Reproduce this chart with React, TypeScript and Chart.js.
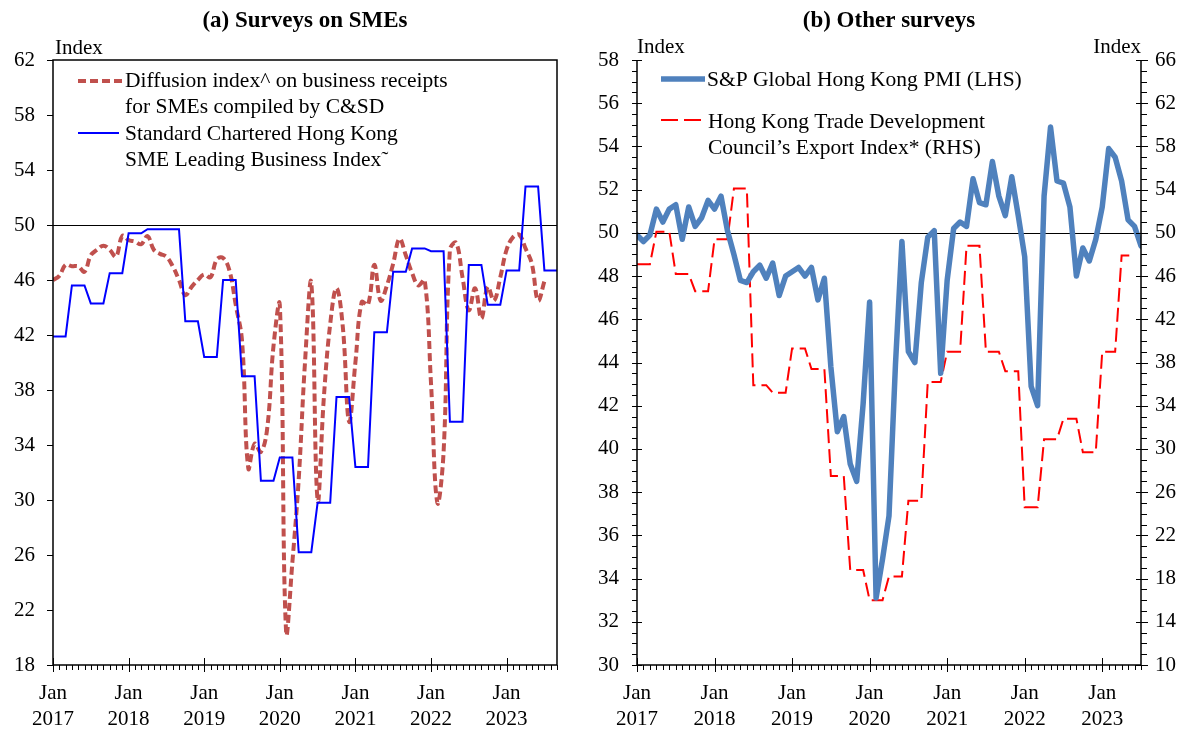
import React, { useEffect, useRef } from "react";
import { Chart, registerables } from "chart.js";

Chart.register(...registerables);

const SERIF = "'Liberation Serif', 'Times New Roman', Times, serif";

// month index 0 = Jan 2017
const yearLabels = ["2017", "2018", "2019", "2020", "2021", "2022", "2023"];
const yearTickMonths = [0, 12, 24, 36, 48, 60, 72];

// ---- Panel (a): Surveys on SMEs ----
const csdDiffusion = [
  46.0, 46.3, 47.1, 47.0, 47.0, 46.6, 47.8, 48.2, 48.5, 48.2, 47.7, 49.2,
  48.9, 48.8, 48.6, 49.2, 48.2, 47.9, 47.7, 47.0, 46.0, 44.9, 45.5, 46.0,
  46.4, 46.2, 47.5, 47.6, 46.7, 44.2, 41.6, 32.3, 34.1, 33.5, 35.2, 41.2,
  44.2, 20.4, 25.5, 31.5, 40.0, 45.8, 30.0, 37.5, 42.8, 45.4, 42.6, 35.7,
  40.0, 44.4, 44.2, 47.1, 44.5, 45.6, 47.2, 49.0, 47.8, 46.5, 45.6, 46.0,
  38.5, 29.8, 33.5, 48.2, 48.7, 46.2, 43.8, 45.4, 43.2, 45.5, 44.5, 46.2,
  48.2, 49.1, 49.3, 48.3, 47.2, 44.5, 45.9,
];

const scLeadingIndex = [
  41.9, 41.9, 41.9, 45.6, 45.6, 45.6, 44.3, 44.3, 44.3, 46.5, 46.5, 46.5,
  49.4, 49.4, 49.4, 49.7, 49.7, 49.7, 49.7, 49.7, 49.7, 43.0, 43.0, 43.0,
  40.4, 40.4, 40.4, 46.0, 46.0, 46.0, 39.0, 39.0, 39.0, 31.4, 31.4, 31.4,
  33.1, 33.1, 33.1, 26.2, 26.2, 26.2, 29.8, 29.8, 29.8, 37.5, 37.5, 37.5,
  32.4, 32.4, 32.4, 42.2, 42.2, 42.2, 46.6, 46.6, 46.6, 48.3, 48.3, 48.3,
  48.1, 48.1, 48.1, 35.7, 35.7, 35.7, 47.1, 47.1, 47.1, 44.2, 44.2, 44.2,
  46.7, 46.7, 46.7, 52.8, 52.8, 52.8, 46.7, 46.7, 46.7,
];

// ---- Panel (b): Other surveys ----
const pmi = [
  49.9, 49.6, 49.9, 51.1, 50.5, 51.1, 51.3, 49.7, 51.2, 50.3, 50.7, 51.5,
  51.1, 51.7, 50.1, 49.0, 47.8, 47.7, 48.2, 48.5, 47.9, 48.6, 47.1, 48.0,
  48.2, 48.4, 48.0, 48.4, 46.9, 47.9, 43.8, 40.8, 41.5, 39.3, 38.5, 42.1,
  46.8, 33.1, 34.9, 36.9, 43.9, 49.6, 44.5, 44.0, 47.7, 49.8, 50.1, 43.5,
  47.8, 50.2, 50.5, 50.3, 52.5, 51.4, 51.3, 53.3, 51.7, 50.8, 52.6, 50.8,
  48.9, 42.9, 42.0, 51.7, 54.9, 52.4, 52.3, 51.2, 48.0, 49.3, 48.7, 49.7,
  51.2, 53.9, 53.5, 52.4, 50.6, 50.3, 49.4,
];

const hktdcExport = [
  47.1, 47.1, 47.1, 50.1, 50.1, 50.1, 46.2, 46.2, 46.2, 44.6, 44.6, 44.6,
  49.4, 49.4, 49.4, 54.1, 54.1, 54.1, 35.9, 35.9, 35.9, 35.2, 35.2, 35.2,
  39.3, 39.3, 39.3, 37.4, 37.4, 37.4, 27.5, 27.5, 27.5, 18.8, 18.8, 18.8,
  16.0, 16.0, 16.0, 18.2, 18.2, 18.2, 25.2, 25.2, 25.2, 36.2, 36.2, 36.2,
  39.0, 39.0, 39.0, 48.8, 48.8, 48.8, 39.0, 39.0, 39.0, 37.2, 37.2, 37.2,
  24.6, 24.6, 24.6, 30.9, 30.9, 30.9, 32.8, 32.8, 32.8, 29.7, 29.7, 29.7,
  39.0, 39.0, 39.0, 47.9, 47.9, 47.9,
];

const toPoints = (arr: number[]) => arr.map((y, i) => ({ x: i, y }));

const CSD_RED = "rgb(192,80,77)";
const SC_BLUE = "#0000ff";
const PMI_BLUE = "rgb(79,129,189)";
const TDC_RED = "#ff0000";

const TICK_FONT = { family: SERIF, size: 21 };
const LEGEND_FONT = `21.5px ${SERIF}`;
const TITLE_FONT = `bold 23px ${SERIF}`;

function xScale(max: number) {
  return {
    type: "linear" as const,
    min: 0,
    max,
    afterBuildTicks: (s: any) => {
      s.ticks = yearTickMonths.map((v) => ({ value: v }));
    },
    afterFit: (s: any) => {
      s.height = 64;
    },
    grid: { display: false, drawTicks: false },
    border: { display: false },
    ticks: {
      autoSkip: false,
      maxRotation: 0,
      padding: 15,
      color: "#000",
      font: { ...TICK_FONT, lineHeight: 1.24 },
      callback: (v: any) => {
        const i = yearTickMonths.indexOf(Number(v));
        return i >= 0 ? ["Jan", yearLabels[i]] : "";
      },
    },
  };
}

function drawXTicks(ctx: CanvasRenderingContext2D, chart: any, max: number) {
  const { bottom } = chart.chartArea;
  const xs = chart.scales.x;
  ctx.lineWidth = 1;
  ctx.strokeStyle = "#000";
  for (let m = 0; m <= max; m++) {
    const px = Math.round(xs.getPixelForValue(m)) + 0.5;
    ctx.beginPath();
    if (m % 12 === 0) {
      ctx.moveTo(px, bottom - 7);
      ctx.lineTo(px, bottom + 7);
    } else {
      ctx.moveTo(px, bottom);
      ctx.lineTo(px, bottom + 5);
    }
    ctx.stroke();
  }
}

function hLine(ctx: CanvasRenderingContext2D, x1: number, x2: number, y: number) {
  ctx.beginPath();
  ctx.moveTo(x1, y);
  ctx.lineTo(x2, y);
  ctx.stroke();
}

const leftDecor = {
  id: "leftDecor",
  beforeDatasetsDraw(chart: any) {
    const { ctx, chartArea } = chart;
    const py = Math.round(chart.scales.y.getPixelForValue(50)) + 0.5;
    ctx.save();
    ctx.strokeStyle = "#000";
    ctx.lineWidth = 1;
    hLine(ctx, chartArea.left, chartArea.right, py);
    ctx.restore();
  },
  afterDraw(chart: any) {
    const { ctx, chartArea } = chart;
    const { left, right, top, bottom } = chartArea;
    ctx.save();
    ctx.strokeStyle = "#000";
    ctx.lineWidth = 1.5;
    ctx.strokeRect(left, top, right - left, bottom - top);
    drawXTicks(ctx, chart, 80);
    const ys = chart.scales.y;
    ctx.lineWidth = 1;
    for (let v = 18; v <= 62; v += 4) {
      const py = Math.round(ys.getPixelForValue(v)) + 0.5;
      hLine(ctx, left - 6, left, py);
    }
    ctx.fillStyle = "#000";
    ctx.textBaseline = "alphabetic";
    ctx.font = TITLE_FONT;
    ctx.textAlign = "center";
    ctx.fillText("(a) Surveys on SMEs", (left + right) / 2, 27);
    ctx.font = `21px ${SERIF}`;
    ctx.textAlign = "left";
    ctx.fillText("Index", 55, 54);

    // legend
    ctx.strokeStyle = CSD_RED;
    ctx.lineWidth = 4;
    ctx.setLineDash([8, 4]);
    hLine(ctx, 78, 122, 81);
    ctx.setLineDash([]);
    ctx.strokeStyle = SC_BLUE;
    ctx.lineWidth = 2;
    hLine(ctx, 78, 119, 133);
    ctx.fillStyle = "#000";
    ctx.font = LEGEND_FONT;
    ctx.fillText("Diffusion index^ on business receipts", 125, 87);
    ctx.fillText("for SMEs compiled by C&SD", 125, 113);
    ctx.fillText("Standard Chartered Hong Kong", 125, 140);
    ctx.fillText("SME Leading Business Index\u02DC", 125, 166);
    ctx.restore();
  },
};

const rightDecor = {
  id: "rightDecor",
  beforeDatasetsDraw(chart: any) {
    const { ctx, chartArea } = chart;
    const py = Math.round(chart.scales.y.getPixelForValue(50)) + 0.5;
    ctx.save();
    ctx.strokeStyle = "#000";
    ctx.lineWidth = 1;
    hLine(ctx, chartArea.left, chartArea.right, py);
    ctx.restore();
  },
  afterDraw(chart: any) {
    const { ctx, chartArea } = chart;
    const { left, right, top, bottom } = chartArea;
    ctx.save();
    ctx.strokeStyle = "#000";
    ctx.lineWidth = 1.5;
    ctx.beginPath();
    ctx.moveTo(left, top);
    ctx.lineTo(left, bottom);
    ctx.lineTo(right, bottom);
    ctx.lineTo(right, top);
    ctx.stroke();
    drawXTicks(ctx, chart, 78);
    const ys = chart.scales.y;
    const y2 = chart.scales.y2;
    ctx.lineWidth = 1;
    for (let v = 30; v <= 58; v += 0.5) {
      const py = Math.round(ys.getPixelForValue(v)) + 0.5;
      if (Math.abs(v % 2) < 1e-9) hLine(ctx, left - 5, left + 5, py);
      else hLine(ctx, left - 5, left, py);
    }
    for (let v = 10; v <= 66; v += 1) {
      const py = Math.round(y2.getPixelForValue(v)) + 0.5;
      if ((v - 10) % 4 === 0) hLine(ctx, right - 5, right + 7, py);
      else hLine(ctx, right, right + 6, py);
    }
    ctx.fillStyle = "#000";
    ctx.textBaseline = "alphabetic";
    ctx.font = TITLE_FONT;
    ctx.textAlign = "center";
    ctx.fillText("(b) Other surveys", (left + right) / 2, 27);
    ctx.font = `21px ${SERIF}`;
    ctx.textAlign = "left";
    ctx.fillText("Index", left, 53);
    ctx.textAlign = "right";
    ctx.fillText("Index", right, 53);

    // legend
    ctx.strokeStyle = PMI_BLUE;
    ctx.lineWidth = 5.5;
    hLine(ctx, 67, 111, 79);
    ctx.strokeStyle = TDC_RED;
    ctx.lineWidth = 2;
    ctx.setLineDash([17, 6]);
    hLine(ctx, 67, 107, 120);
    ctx.setLineDash([]);
    ctx.textAlign = "left";
    ctx.font = LEGEND_FONT;
    ctx.fillText("S&P Global Hong Kong PMI (LHS)", 113, 86);
    ctx.fillText("Hong Kong Trade Development", 114, 128);
    ctx.fillText("Council\u2019s Export Index* (RHS)", 114, 154);
    ctx.restore();
  },
};

export default function App() {
  const leftRef = useRef<HTMLCanvasElement>(null);
  const rightRef = useRef<HTMLCanvasElement>(null);

  useEffect(() => {
    const common = {
      animation: false as const,
      responsive: false,
      events: [] as any[],
      plugins: {
        legend: { display: false },
        tooltip: { enabled: false },
        title: { display: false },
      },
      elements: { point: { radius: 0 } },
    };

    const left = new Chart(leftRef.current as HTMLCanvasElement, {
      type: "line",
      data: {
        datasets: [
          {
            label: "Standard Chartered Hong Kong SME Leading Business Index",
            data: toPoints(scLeadingIndex),
            borderColor: SC_BLUE,
            borderWidth: 2,
            tension: 0,
            pointRadius: 0,
            fill: false,
          },
          {
            label: "Diffusion index on business receipts for SMEs compiled by C&SD",
            data: toPoints(csdDiffusion),
            borderColor: CSD_RED,
            borderWidth: 4,
            borderDash: [8, 4],
            tension: 0.4,
            pointRadius: 0,
            fill: false,
          },
        ],
      },
      options: {
        ...common,
        layout: { padding: { top: 60, right: 37, left: 0, bottom: 0 } },
        scales: {
          x: xScale(80),
          y: {
            min: 18,
            max: 62,
            afterFit: (s: any) => {
              s.width = 53;
            },
            grid: { display: false, drawTicks: false },
            border: { display: false },
            ticks: {
              stepSize: 4,
              padding: 18,
              color: "#000",
              font: TICK_FONT,
            },
          },
        },
      } as any,
      plugins: [leftDecor],
    });

    const right = new Chart(rightRef.current as HTMLCanvasElement, {
      type: "line",
      data: {
        datasets: [
          {
            label: "S&P Global Hong Kong PMI (LHS)",
            data: toPoints(pmi),
            borderColor: PMI_BLUE,
            borderWidth: 5.5,
            borderJoinStyle: "round",
            borderCapStyle: "round",
            tension: 0,
            pointRadius: 0,
            yAxisID: "y",
            fill: false,
          },
          {
            label: "Hong Kong Trade Development Council's Export Index (RHS)",
            data: toPoints(hktdcExport),
            borderColor: TDC_RED,
            borderWidth: 2,
            borderDash: [14, 6],
            tension: 0,
            pointRadius: 0,
            yAxisID: "y2",
            fill: false,
          },
        ],
      },
      options: {
        ...common,
        layout: { padding: { top: 60, right: 0, left: 0, bottom: 0 } },
        scales: {
          x: xScale(78),
          y: {
            position: "left",
            min: 30,
            max: 58,
            afterFit: (s: any) => {
              s.width = 43;
            },
            grid: { display: false, drawTicks: false },
            border: { display: false },
            ticks: {
              stepSize: 2,
              padding: 18,
              color: "#000",
              font: TICK_FONT,
            },
          },
          y2: {
            position: "right",
            min: 10,
            max: 66,
            afterFit: (s: any) => {
              s.width = 48;
            },
            grid: { display: false, drawTicks: false },
            border: { display: false },
            ticks: {
              stepSize: 4,
              padding: 14,
              color: "#000",
              font: TICK_FONT,
            },
          },
        },
      } as any,
      plugins: [rightDecor],
    });

    return () => {
      left.destroy();
      right.destroy();
    };
  }, []);

  return (
    <div
      style={{
        position: "absolute",
        left: 0,
        top: 0,
        width: 1189,
        height: 729,
        background: "#fff",
        overflow: "hidden",
      }}
    >
      <canvas
        ref={leftRef}
        width={594}
        height={729}
        style={{ position: "absolute", left: 0, top: 0, width: 594, height: 729 }}
      />
      <canvas
        ref={rightRef}
        width={595}
        height={729}
        style={{ position: "absolute", left: 594, top: 0, width: 595, height: 729 }}
      />
    </div>
  );
}
